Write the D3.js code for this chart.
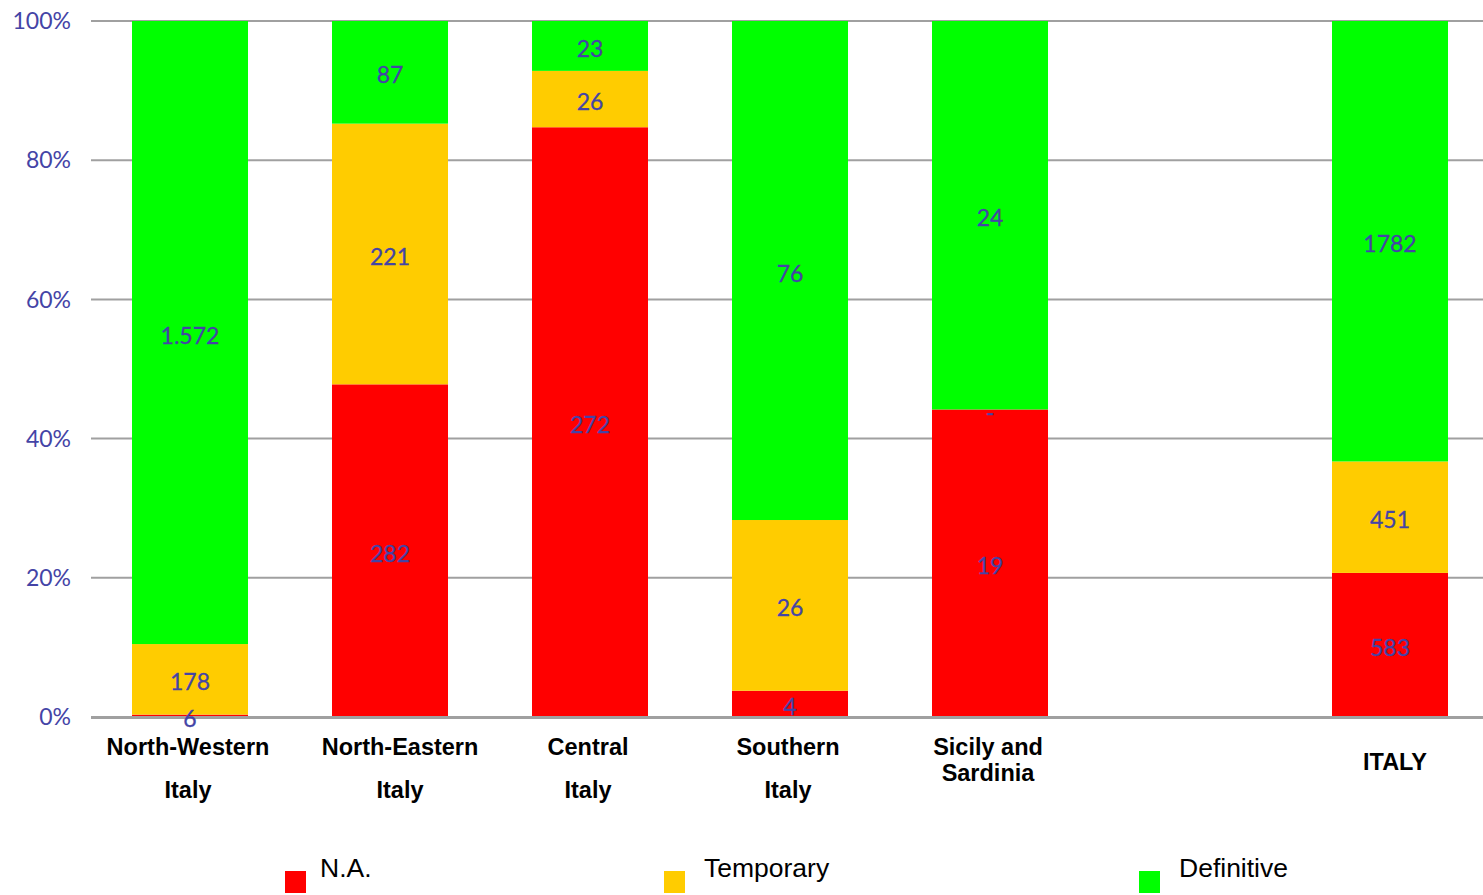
<!DOCTYPE html>
<html lang="en">
<head>
  <meta charset="UTF-8">
  <title>Regions</title>
  <script src="https://d3js.org/d3.v7.min.js"></script>
  <style>
    body {
      margin: 0;
      background: #fff;
    }

    .grid line {
      stroke: #a0a0a0;
      stroke-width: 2px;
    }

    .tick-label {
      font: 23px Lato, sans-serif;
      fill: #4444a6;
    }

    .value {
      font: 23px Lato, sans-serif;
      fill: #4444a6;
      stroke: #4444a6;
      stroke-width: 0.3px;
    }

    .cat {
      font: bold 23.5px "Liberation Sans", Arial, sans-serif;
      fill: #000;
    }

    .legend text {
      font: 26.5px "Liberation Sans", Arial, sans-serif;
      fill: #000;
    }
  </style>
</head>
<body>
  <div id="chart"></div>

  <script>
    const categories = ["North-Western Italy", "North-Eastern Italy", "Central Italy", "Southern Italy", "Sicily and Sardinia", "", "ITALY"];
    const catLines = [["North-Western", "Italy"], ["North-Eastern", "Italy"], ["Central", "Italy"], ["Southern", "Italy"], ["Sicily and", "Sardinia"], [], ["ITALY"]];
    const seriesNames = ["N.A.", "Temporary", "Definitive"];
    const seriesColors = ["#ff0000", "#ffcc00", "#00ff00"];
    const naValues = [6, 282, 272, 4, 19, null, 583];
    const temporaryValues = [178, 221, 26, 26, 0, null, 451];
    const definitiveValues = [1572, 87, 23, 76, 24, null, 1782];
    const yTicks = [0, 0.2, 0.4, 0.6, 0.8, 1];

    const W = 1483, H = 895;
    const svg = d3.select("#chart").append("svg")
      .attr("width", W)
      .attr("height", H);

    const x = d3.scaleBand()
      .domain(categories.map((c, i) => i))
      .range([90, 1490])
      .paddingInner(0.42)
      .paddingOuter(0.21);

    const y = d3.scaleLinear().domain([0, 1]).range([717, 21]);

    // grid lines (0% line goes on top of the bars later)
    svg.append("g").attr("class", "grid")
      .selectAll("line")
      .data(yTicks.filter(d => d > 0))
      .enter()
      .append("line")
      .attr("x1", 91)
      .attr("x2", W)
      .attr("y1", d => y(d))
      .attr("y2", d => y(d));

    svg.append("g")
      .selectAll("text")
      .data(yTicks)
      .enter()
      .append("text")
      .attr("class", "tick-label")
      .attr("x", 71)
      .attr("y", d => y(d))
      .attr("dy", "0.36em")
      .attr("text-anchor", "end")
      .text(d => d3.format(".0%")(d));

    // stacking
    const rows = categories.map((c, i) => ({
      i: i,
      na: naValues[i],
      temporary: temporaryValues[i],
      definitive: definitiveValues[i]
    })).filter(r => r.na !== null);

    rows.forEach(r => {
      const tot = r.na + r.temporary + r.definitive;
      r.shares = [r.na / tot, r.temporary / tot, r.definitive / tot];
      r.raw = [r.na, r.temporary, r.definitive];
    });

    const segs = [];
    rows.forEach(r => {
      let acc = 0;
      r.shares.forEach((s, k) => {
        segs.push({ i: r.i, k: k, y0: acc, y1: acc + s, v: r.raw[k] });
        acc += s;
      });
    });

    svg.append("g")
      .selectAll("rect")
      .data(segs)
      .enter()
      .append("rect")
      .attr("x", d => x(d.i))
      .attr("width", x.bandwidth())
      .attr("y", d => y(d.y1))
      .attr("height", d => y(d.y0) - y(d.y1))
      .attr("fill", d => seriesColors[d.k]);

    svg.append("g").attr("class", "grid")
      .append("line")
      .attr("x1", 91)
      .attr("x2", W)
      .attr("y1", y(0) + 0.5)
      .attr("y2", y(0) + 0.5)
      .style("stroke-width", "3px");

    const labelText = v => v === 0 ? "-" : (v === 1572 ? "1.572" : String(v));

    svg.append("g")
      .selectAll("text")
      .data(segs)
      .enter()
      .append("text")
      .attr("class", "value")
      .attr("x", d => x(d.i) + x.bandwidth() / 2)
      .attr("y", d => y((d.y0 + d.y1) / 2))
      .attr("dy", "0.48em")
      .attr("text-anchor", "middle")
      .text(d => labelText(d.v));

    // category labels
    const cat = svg.append("g")
      .selectAll("text")
      .data(catLines.map((lines, i) => ({ lines, i })).filter(d => d.lines.length))
      .enter()
      .append("text")
      .attr("class", "cat")
      .attr("text-anchor", "middle");

    cat.each(function (d) {
      const t = d3.select(this);
      const cx = x(d.i) + x.bandwidth() / 2 + (d.i === 1 ? 10 : d.i === 6 ? 5 : -2);
      let ys;
      if (d.lines.length === 1) ys = [770];
      else if (d.i === 4) ys = [755, 781];
      else ys = [755, 798];
      d.lines.forEach((ln, j) => {
        t.append("tspan")
          .attr("x", cx)
          .attr("y", ys[j])
          .text(ln);
      });
    });

    // legend
    const legendX = [285, 664, 1139];
    const legend = svg.append("g").attr("class", "legend")
      .selectAll("g")
      .data(seriesNames)
      .enter()
      .append("g")
      .attr("transform", (d, i) => `translate(${legendX[i]},871)`);

    legend.append("rect")
      .attr("width", 21)
      .attr("height", 22)
      .attr("fill", (d, i) => seriesColors[i]);

    legend.append("text")
      .attr("x", (d, i) => i === 0 ? 35 : 40)
      .attr("y", 6)
      .text(d => d);
  </script>
</body>
</html>
